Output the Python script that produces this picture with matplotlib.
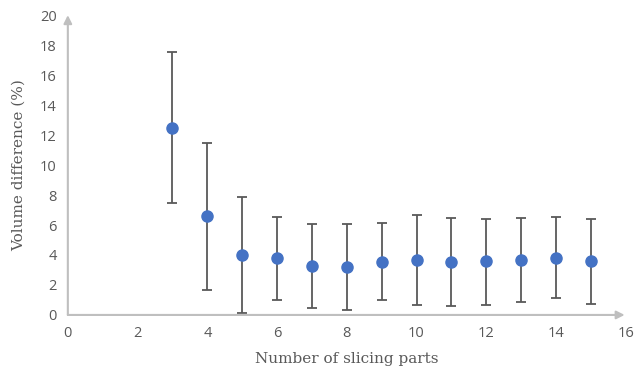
import matplotlib
matplotlib.use("Agg")
import matplotlib.pyplot as plt

parts = [3, 4, 5, 6, 7, 8, 9, 10, 11, 12, 13, 14, 15]
mean_diff = [12.5, 6.6, 4.0, 3.8, 3.27, 3.2, 3.56, 3.65, 3.56, 3.57, 3.68, 3.8, 3.58]
err_low = [5.03, 4.93, 3.87, 2.8, 2.8, 2.84, 2.55, 2.98, 2.96, 2.88, 2.81, 2.7, 2.82]
err_high = [5.03, 4.87, 3.87, 2.75, 2.83, 2.89, 2.55, 2.99, 2.93, 2.85, 2.79, 2.76, 2.8]

xticks = [0, 2, 4, 6, 8, 10, 12, 14, 16]
yticks = [0, 2, 4, 6, 8, 10, 12, 14, 16, 18, 20]

fig = plt.figure(figsize=(6.34, 3.79), dpi=100)
ax = fig.add_axes([0.107, 0.169, 0.880, 0.791])

ax.errorbar(parts, mean_diff, yerr=[err_low, err_high], fmt='o', color='#4472C4',
            markersize=8, ecolor='#595959', elinewidth=1.3, capsize=3.5, capthick=1.3, zorder=3)

ax.set_xlim(0, 16)
ax.set_ylim(0, 20)
ax.set_xticks(xticks)
ax.set_yticks(yticks)
for s in ax.spines.values():
    s.set_visible(False)
ax.tick_params(length=0, labelsize=10.5, colors='#595959', pad=8)
for lab in ax.get_xticklabels() + ax.get_yticklabels():
    lab.set_family('Open Sans')

# axes with arrows
ax.annotate('', xy=(0, 1.0), xycoords='axes fraction', xytext=(0, 0),
            arrowprops=dict(arrowstyle='-|>', color='#BFBFBF', lw=1.5, mutation_scale=12,
                            shrinkA=0, shrinkB=0), annotation_clip=False)
ax.annotate('', xy=(0.998, 0), xycoords='axes fraction', xytext=(0, 0),
            arrowprops=dict(arrowstyle='-|>', color='#BFBFBF', lw=1.5, mutation_scale=12,
                            shrinkA=0, shrinkB=0), annotation_clip=False)

ax.set_xlabel('Number of slicing parts', family='DejaVu Serif', fontsize=11, color='#595959', labelpad=8)
ax.set_ylabel('Volume difference (%)', family='DejaVu Serif', fontsize=11, color='#595959', labelpad=10)

fig.savefig('out.png', dpi=100)
